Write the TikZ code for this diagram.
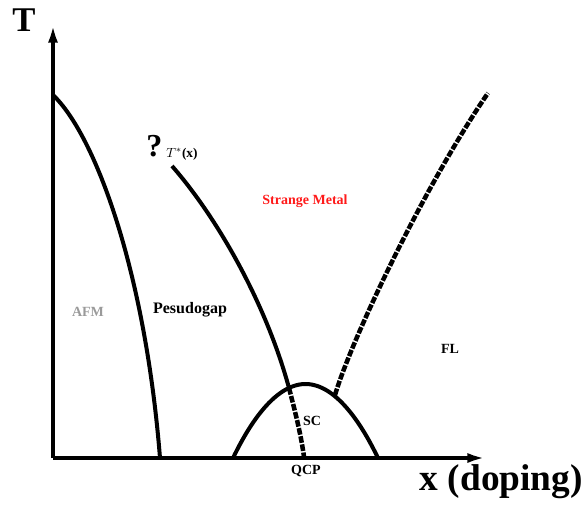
\documentclass[tikz,border=0pt]{standalone}
\usepackage{fontspec}
\setmainfont{Liberation Serif}
\usetikzlibrary{arrows.meta}
\definecolor{PDRed}{HTML}{FF1A1A}
\definecolor{PDGray}{HTML}{9A9A9A}
\tikzset{
  phase/.style={font=\bfseries\fontsize{10.5}{12}\selectfont, inner sep=0pt},
  pline/.style={line width=3pt},
  pdash/.style={line width=3.4pt, dash pattern=on 5pt off 1.2pt},
}

\begin{document}
\begin{tikzpicture}[x=0.75pt,y=-0.75pt]
  \useasboundingbox (0,0) rectangle (584,506);
  % axes
  \coordinate (O) at (53,458);
  \coordinate (Ttop) at (53,24);
  \coordinate (Xend) at (486,458);
  \draw[pline, -{Latex[length=14pt,width=7.5pt]}] (O) -- (Ttop);
  \draw[pline, -{Latex[length=14pt,width=7.5pt]}] (O) -- (Xend);
  \node[font=\bfseries\fontsize{26}{28}\selectfont, anchor=base west, inner sep=0pt] (tlab) at (12,32) {T};
  \node[font=\bfseries\fontsize{28}{30}\selectfont, anchor=base east, inner sep=0pt] (xlab) at (583,490) {x (doping)};
  % AFM boundary
  \draw[pline] (53,95) .. controls (95,135) and (145,270) .. (160,458);
  % T*(x) line
  \draw[pline] (172,166) .. controls (215,215) and (265,300) .. (289,388);
  \draw[pdash] (289,388) .. controls (296,415) and (301,435) .. (304,457);
  % SC dome
  \draw[pline] (233,458) parabola bend (305.5,384) (378,458);
  % FL crossover
  \draw[pdash] (335,395) .. controls (352,338) and (425,185) .. (488,93);
  % labels
  \node[font=\bfseries\fontsize{24}{26}\selectfont, anchor=base west, inner sep=0pt] (qmark) at (146,156) {?};
  \node[font=\bfseries\fontsize{10}{12}\selectfont, anchor=base west, inner sep=0pt] (tstar) at (166,157) {$T^{*}$(x)};
  \node[phase, PDGray] (afm) at (88,312) {AFM};
  \node[phase, font=\bfseries\fontsize{12}{14}\selectfont] (pg) at (190,310) {Pesudogap};
  \node[phase, PDRed] (sm) at (305,201) {Strange Metal};
  \node[phase] (fl) at (450,349) {FL};
  \node[phase] (sc) at (312,421) {SC};
  \node[phase] (qcp) at (306,471) {QCP};
\end{tikzpicture}
\end{document}
